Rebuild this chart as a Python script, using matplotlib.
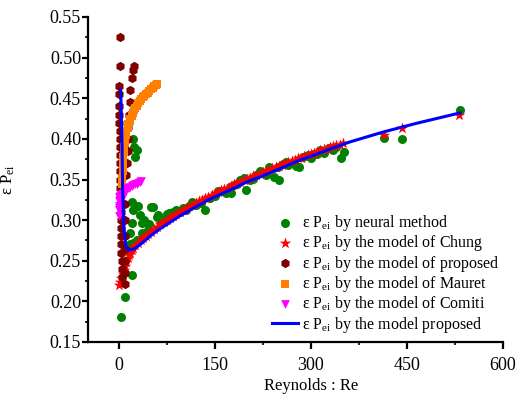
import matplotlib
matplotlib.use("Agg")
import matplotlib.pyplot as plt
from matplotlib.ticker import MultipleLocator, FormatStrFormatter

plt.rcParams['font.family'] = ['Liberation Serif', 'DejaVu Serif']
plt.rcParams['mathtext.fontset'] = 'custom'
plt.rcParams['mathtext.rm'] = 'Liberation Serif'
plt.rcParams['mathtext.it'] = 'Liberation Serif:italic'

# neural method (green circles)
neural_re = [4, 9, 20, 22, 22, 24, 26, 28, 20, 22, 33, 20, 36, 53, 61, 84, 17, 44, 28, 17,
             51, 59, 36, 45, 40, 48, 30, 14, 79, 90, 64, 70, 75, 95, 100, 105, 110, 115,
             121, 128, 134, 142, 150, 155, 160, 167, 173, 176, 180, 185, 190, 196, 199,
             205, 210, 215, 220, 225, 230, 235, 243, 248, 251, 256, 261, 265, 270, 276,
             282, 288, 295, 300, 305, 310, 315, 321, 329, 334, 340, 347, 352,
             414, 442, 533]
neural_val = [0.181, 0.205, 0.232, 0.272, 0.400, 0.390, 0.378, 0.386, 0.322, 0.312, 0.306,
              0.296, 0.296, 0.316, 0.306, 0.310, 0.284, 0.284, 0.276, 0.270,
              0.316, 0.304, 0.284, 0.288, 0.300, 0.295, 0.318, 0.262, 0.309, 0.313, 0.300,
              0.303, 0.308, 0.310, 0.315, 0.312, 0.318, 0.322, 0.319, 0.321, 0.313, 0.327,
              0.330, 0.336, 0.336, 0.334, 0.341, 0.333, 0.343, 0.345, 0.349, 0.352, 0.337,
              0.350, 0.351, 0.356, 0.360, 0.358, 0.356, 0.365, 0.353, 0.366, 0.349, 0.369,
              0.372, 0.368, 0.370, 0.367, 0.365, 0.378, 0.380, 0.376, 0.381, 0.382, 0.386,
              0.383, 0.389, 0.386, 0.390, 0.376, 0.384,
              0.401, 0.400, 0.436]

# model of Chung (red stars)
chung_re = [0, 2, 4, 6, 8, 10, 12, 14, 16, 18, 20, 23, 26, 30, 34, 38, 42, 46, 50, 55,
            60, 65, 70, 75, 80, 85, 90, 95, 100, 105, 110, 115, 120, 125, 130, 135, 140,
            145, 150, 155, 160, 165, 170, 175, 180, 185, 190, 195, 200, 205, 210, 215,
            220, 225, 230, 235, 240, 245, 250, 255, 260, 265, 270, 275, 280, 285, 290,
            295, 300, 305, 310, 315, 320, 325, 330, 335, 340, 345, 350, 414, 442, 531]
chung_val = [0.220, 0.224, 0.229, 0.234, 0.239, 0.244, 0.249, 0.253, 0.257, 0.260, 0.263,
             0.266, 0.269, 0.272, 0.275, 0.278, 0.281, 0.283, 0.286, 0.289, 0.292, 0.295,
             0.298, 0.300, 0.303, 0.305, 0.308, 0.310, 0.312, 0.314, 0.317, 0.319, 0.321,
             0.323, 0.325, 0.327, 0.329, 0.331, 0.333, 0.335, 0.337, 0.338, 0.340, 0.342,
             0.344, 0.346, 0.347, 0.349, 0.351, 0.352, 0.354, 0.356, 0.357, 0.359, 0.360,
             0.362, 0.364, 0.365, 0.367, 0.368, 0.370, 0.371, 0.373, 0.374, 0.376, 0.377,
             0.379, 0.380, 0.381, 0.383, 0.384, 0.386, 0.387, 0.388, 0.390, 0.391, 0.392,
             0.393, 0.395, 0.405, 0.413, 0.430]

# model of proposed (maroon hexagons)
prop_re = [2, 2, 1,
           1, 1, 1, 1, 1.5, 1.5, 1.5, 1.5, 2, 2, 2, 2, 2.5, 2.5, 3, 3, 3.5, 3.5, 4, 4,
           4.5, 5, 5,
           10, 10, 9, 9, 9, 9, 10, 11, 12, 13, 14, 14, 15, 16, 17, 18, 20, 22, 24]
prop_val = [0.525, 0.490, 0.465,
            0.455, 0.440, 0.430, 0.420, 0.410, 0.400, 0.390, 0.380, 0.370, 0.360, 0.350,
            0.340, 0.330, 0.320, 0.310, 0.300, 0.290, 0.280, 0.270, 0.260, 0.250, 0.240,
            0.230,
            0.222, 0.235, 0.250, 0.265, 0.280, 0.300, 0.320, 0.340, 0.355, 0.370, 0.385,
            0.400, 0.415, 0.430, 0.445, 0.460, 0.475, 0.485, 0.490]

# model of Mauret (orange squares)
mauret_re = [5, 5, 6, 6, 7, 7, 8, 8, 9, 10, 11, 12, 14, 15, 17, 18, 20, 22, 24, 26, 28,
             30, 33, 35, 38, 40, 43, 45, 48, 50, 53, 55, 58, 60]
mauret_val = [0.345, 0.352, 0.360, 0.366, 0.372, 0.378, 0.384, 0.390, 0.395, 0.400, 0.405,
              0.410, 0.414, 0.418, 0.422, 0.425, 0.428, 0.432, 0.435, 0.438, 0.441,
              0.444, 0.447, 0.449, 0.451, 0.453, 0.455, 0.457, 0.459, 0.461, 0.463,
              0.465, 0.466, 0.468]

# model of Comiti (magenta triangles)
comiti_re = [0, 0, 0, 0, 1, 1, 2, 3, 4, 5, 6, 8, 10, 12, 14, 16, 18, 20, 22, 25, 28, 30,
             33, 35]
comiti_val = [0.305, 0.312, 0.318, 0.324, 0.315, 0.328, 0.330, 0.326, 0.331, 0.332,
              0.328, 0.335, 0.336, 0.338, 0.339, 0.340, 0.341, 0.342, 0.343, 0.344,
              0.345, 0.346, 0.347, 0.348]

# model proposed (blue line)
line_re = [3, 5, 6, 8, 11, 16, 25, 35, 50, 64, 95, 115, 140, 168, 200, 220, 251, 280,
           308, 335, 360, 411, 464, 533]
line_val = [0.460, 0.400, 0.340, 0.290, 0.268, 0.263, 0.265, 0.271, 0.281, 0.289, 0.305,
            0.314, 0.325, 0.335, 0.347, 0.353, 0.363, 0.373, 0.381, 0.389, 0.396, 0.408,
            0.419, 0.432]

lbl = r'ε P$_{\mathrm{ei}}$'

fig = plt.figure(figsize=(5.2, 3.96), dpi=100)
ax = fig.add_axes([88 / 520, 1 - 342 / 396, 415 / 520, 325 / 396])

ax.scatter(neural_re, neural_val, s=42, marker='o', color='#008000', linewidths=0,
           label=lbl + ' by neural method', zorder=2)
ax.scatter(chung_re, chung_val, s=75, marker='*', color='#ff0000', linewidths=0,
           label=lbl + ' by the model of Chung', zorder=3)
ax.scatter(prop_re, prop_val, s=45, marker='h', color='#800000', linewidths=0,
           label=lbl + ' by the model of proposed', zorder=3)
ax.scatter(mauret_re, mauret_val, s=28, marker='s', color='#ff8000', linewidths=0,
           label=lbl + ' by the model of Mauret', zorder=4)
ax.scatter(comiti_re, comiti_val, s=40, marker='v', color='#ff00ff', linewidths=0,
           label=lbl + ' by the model of Comiti', zorder=4)
ax.plot(line_re, line_val, color='#0000ff', linewidth=2.2,
        label=lbl + ' by the model proposed', zorder=5)

ax.set_xlim(-48, 600)
ax.set_ylim(0.15, 0.55)
ax.xaxis.set_major_locator(MultipleLocator(150))
ax.xaxis.set_minor_locator(MultipleLocator(75))
ax.yaxis.set_major_locator(MultipleLocator(0.05))
ax.yaxis.set_minor_locator(MultipleLocator(0.025))
ax.yaxis.set_major_formatter(FormatStrFormatter('%.2f'))

for side in ['top', 'right']:
    ax.spines[side].set_visible(False)
for side in ['left', 'bottom']:
    ax.spines[side].set_linewidth(1.6)

ax.tick_params(axis='both', which='major', direction='out', width=1.6, labelsize=13)
ax.tick_params(axis='x', which='major', length=5, pad=6)
ax.tick_params(axis='y', which='major', length=4, pad=1)
ax.tick_params(axis='both', which='minor', direction='out', width=1.2, length=2)

ax.set_xlabel('Reynolds : Re', fontsize=12)
ax.xaxis.set_label_coords(0.537, -0.11)
ax.set_ylabel(lbl, fontsize=12)
ax.yaxis.set_label_coords(-0.17, 0.5)

ax.legend(loc='upper left', bbox_to_anchor=(272 / 520, 1 - 213 / 396),
          bbox_transform=fig.transFigure, frameon=False, fontsize=11.5,
          borderpad=0, borderaxespad=0, labelspacing=0.02, handlelength=1.6,
          handletextpad=0.25, scatterpoints=1)

plt.savefig('out.png', dpi=100)
